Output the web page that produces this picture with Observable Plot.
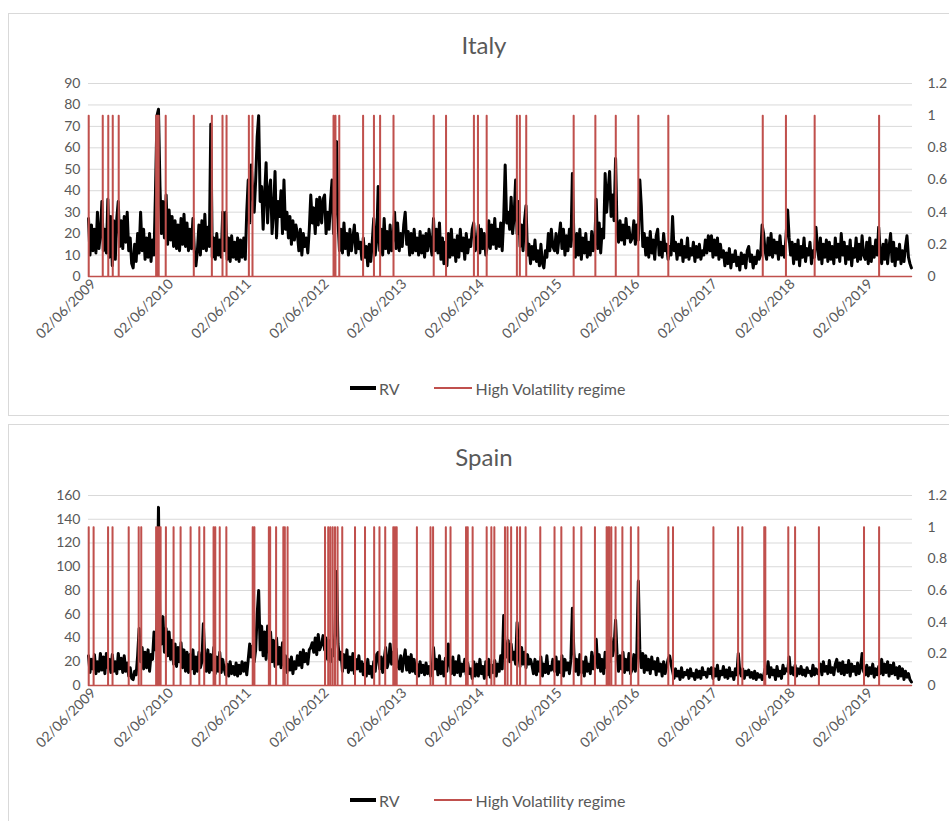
<!DOCTYPE html>
<html><head><meta charset="utf-8">
<script src="https://cdn.jsdelivr.net/npm/d3@7"></script>
<script src="https://cdn.jsdelivr.net/npm/@observablehq/plot@0.6"></script>
<style>
body{margin:0;background:#fff;font-family:Lato,"Open Sans",sans-serif;}
#page{position:relative;width:949px;height:821px;overflow:hidden;background:#fff}
.panel{position:absolute;left:8px;width:960px;border:1px solid #d9d9d9;box-sizing:border-box;}
.title{position:absolute;left:0;width:968px;text-align:center;font-size:24px;line-height:24px;color:#595959;}
.chart{position:absolute;left:0;}
.legend{position:absolute;left:350px;display:flex;align-items:center;font-size:16px;color:#595959;height:20px;}
.sw-rv{width:26px;height:4px;background:#000;}
.sw-hv{width:38px;height:1.5px;background:#c0504d;margin-left:34px;}
</style></head>
<body><div id="page">
<div class="panel" style="top:13px;height:403px"></div>
<div class="panel" style="top:424px;height:420px"></div>
<div class="title" style="top:33px">Italy</div>
<div class="title" style="top:445px">Spain</div>
<div class="chart" id="c1" style="top:60px"></div>
<div class="chart" id="c2" style="top:472px"></div>
<div class="legend" style="top:378px"><span class="sw-rv"></span><span style="margin-left:3px">RV</span><span class="sw-hv"></span><span style="margin-left:4px">High Volatility regime</span></div>
<div class="legend" style="top:790px"><span class="sw-rv"></span><span style="margin-left:3px">RV</span><span class="sw-hv"></span><span style="margin-left:4px">High Volatility regime</span></div>
</div>
<script>
// Weekly RV readings; each row starts on 2 June of 2009, 2010, ... 2019
const italyRV = [
[27,10,24,12,22,11,30,13,20,35,12,22,11,36,9,28,5,26,8,27,35,14,26,13,28,16,30,12,18,6,4,15,7,20,11,30,12,22,8,18,9,20,7,17,10,40,75,78,42,20,35,18],
[38,15,31,17,28,14,26,13,24,12,27,15,29,14,25,12,22,13,27,11,5,12,24,10,26,13,29,12,23,14,71,9,18,8,20,10,17,9,30,12,30,8,18,7,19,9,16,8,18,7,17,9],
[18,8,30,45,25,52,40,30,45,65,75,35,42,22,38,53,25,40,45,20,30,49,18,35,28,40,20,45,22,30,18,28,15,26,17,24,20,12,22,10,20,14,18,11,22,38,25,32,20,36,24,37],
[25,36,38,20,30,22,35,45,20,30,63,26,12,22,11,25,13,20,10,22,12,18,24,11,20,13,16,8,18,9,14,5,15,7,16,27,10,17,42,12,22,10,27,13,21,11,24,12,18,30,13,25],
[12,20,14,24,30,15,21,10,20,11,22,12,18,10,21,11,19,9,20,12,22,15,10,27,12,22,11,25,8,18,6,16,5,20,9,22,10,17,7,19,9,22,12,18,8,20,11,17,14,22,25,12],
[15,24,11,22,13,20,10,14,26,13,24,15,27,13,22,14,25,12,27,52,25,30,22,37,20,28,45,20,35,14,24,12,26,33,10,15,6,14,8,17,7,12,5,15,6,4,12,9,20,12,22,14],
[12,20,11,18,25,13,22,10,19,12,22,14,48,18,9,20,10,22,8,18,11,20,9,16,10,21,12,15,36,13,25,11,22,18,48,30,40,49,28,38,26,55,22,16,26,17,24,15,27,18,23,16],
[18,26,15,24,17,45,33,14,20,10,18,9,21,11,17,8,19,22,10,16,9,20,12,15,8,14,10,28,12,16,8,15,10,17,7,14,9,18,8,13,10,16,7,14,9,15,8,12,10,17,11,19],
[12,19,9,17,10,18,8,15,9,12,5,11,6,13,4,10,7,12,5,9,3,11,6,10,4,12,14,7,10,4,9,6,12,8,10,24,20,12,8,18,10,20,9,17,11,16,8,19,10,14,9,18],
[31,18,10,16,6,15,8,17,5,14,9,18,7,13,10,16,6,12,9,23,14,8,18,6,15,9,17,7,16,8,14,6,18,9,15,7,20,10,16,6,14,8,17,5,13,9,18,7,15,8,19,10],
[8,16,6,18,7,14,9,17,10,23,12,6,15,8,17,6,14,20,7,16,5,13,8,15,6,12,7,14,19,9,6,4]
];
const spainRV = [
[25,11,22,14,26,10,20,12,27,13,24,10,27,15,22,11,26,12,20,10,27,14,23,11,25,12,19,8,15,6,5,12,9,25,48,20,32,14,28,15,30,12,26,22,45,30,50,150,40,35,58,28],
[48,25,45,22,38,18,35,16,32,20,36,15,30,12,28,11,26,14,30,10,24,12,28,15,20,52,22,12,30,11,26,13,32,10,24,12,28,11,22,14,9,18,8,20,10,16,9,19,8,17,10,20],
[12,19,9,22,35,24,33,20,30,60,80,30,50,25,45,22,50,28,45,20,38,16,40,18,32,15,36,17,25,11,22,13,24,10,20,14,25,17,28,15,30,20,27,18,30,32,36,28,40,26,43,30],
[35,42,30,40,22,38,20,30,25,45,96,35,22,28,12,26,15,30,11,24,13,27,10,22,14,25,12,20,9,18,8,22,10,16,7,20,12,26,28,14,24,11,22,32,15,20,35,18,28,16,31,17],
[14,25,12,22,30,13,24,11,26,12,22,10,18,8,20,11,17,9,19,10,16,8,12,32,14,22,9,25,10,20,8,23,12,35,18,10,24,9,20,11,25,8,18,12,22,9,19,10,14,6,20,8],
[18,8,22,10,16,6,20,9,22,7,17,11,21,8,18,12,25,14,59,30,24,38,20,35,22,28,18,53,30,16,32,18,28,15,26,18,22,17,10,22,9,20,12,24,8,18,11,25,10,16,13,22],
[12,24,9,20,11,25,8,22,13,19,10,22,65,28,12,22,9,26,11,20,8,24,12,18,10,28,14,20,39,15,26,12,22,10,28,15,30,20,40,25,32,55,26,12,25,14,28,11,22,13,27,10],
[14,26,12,28,88,30,15,27,11,25,13,22,10,24,14,20,9,23,12,18,8,20,10,16,22,25,18,12,6,14,8,12,5,15,7,11,9,13,6,14,8,10,5,13,7,12,6,15,9,11,7,14],
[10,15,6,14,8,17,5,12,9,16,7,13,6,15,8,11,5,14,9,27,12,8,14,6,12,9,13,7,11,6,12,5,10,7,9,5,8,14,10,20,7,15,9,13,5,16,8,12,6,17,10,14],
[12,24,10,15,9,17,8,14,10,16,9,13,8,15,11,12,8,17,9,14,10,13,18,9,20,12,16,10,21,11,15,9,18,22,12,19,10,20,9,17,11,21,8,18,12,16,9,19,10,15,27,12],
[9,17,8,15,10,18,7,14,9,16,10,22,9,18,11,20,8,17,10,19,9,15,6,16,8,14,5,12,7,10,5,3]
];
// High volatility regime episodes: [start date, length in days]
const italyRegime = [
["2009-06-02",2],["2009-08-07",2],["2009-09-02",2],["2009-09-23",2],["2009-10-21",2],
["2010-04-15",2],["2010-04-21",2],["2010-04-27",2],["2010-05-30",2],["2010-10-09",2],
["2011-01-02",2],["2011-02-21",2],["2011-03-12",2],["2011-06-25",2],["2011-07-12",2],
["2012-07-27",2],["2012-08-05",2],["2012-08-23",2],["2012-12-13",2],["2013-02-02",2],
["2013-03-03",2],["2013-05-05",2],["2013-11-10",2],["2014-01-07",2],["2014-05-18",2],
["2014-06-06",2],["2014-07-17",2],["2014-12-06",2],["2014-12-20",2],["2015-01-19",2],
["2015-08-30",2],["2015-12-10",2],["2016-03-15",2],["2016-06-29",2],["2016-11-17",2],
["2018-02-04",2],["2018-05-24",2],["2018-10-06",2],["2019-08-05",2]
];
const spainRegime = [
["2009-06-02",2],["2009-06-25",2],["2009-09-01",2],["2009-09-22",2],["2009-12-07",2],
["2010-01-23",2],["2010-02-04",2],["2010-04-15",2],["2010-04-22",2],["2010-04-29",2],
["2010-05-06",2],["2010-05-31",2],["2010-07-06",2],["2010-08-08",2],["2010-09-24",2],
["2010-11-04",2],["2010-11-27",2],["2011-01-10",2],["2011-01-18",2],["2011-02-08",2],
["2011-03-11",2],["2011-07-13",2],["2011-07-21",2],["2011-09-27",2],["2011-10-03",2],
["2011-10-31",2],["2011-12-04",2],["2011-12-11",2],["2011-12-24",2],["2012-06-17",2],
["2012-07-02",2],["2012-07-12",2],["2012-07-23",2],["2012-08-03",2],["2012-08-15",2],
["2012-09-06",2],["2012-11-05",2],["2012-12-22",2],["2013-02-03",2],["2013-02-28",2],
["2013-03-27",2],["2013-05-04",2],["2013-05-12",2],["2013-05-20",2],["2013-08-23",2],
["2013-10-26",2],["2013-11-07",2],["2014-01-06",2],["2014-01-28",2],["2014-04-11",2],
["2014-04-19",2],["2014-05-12",2],["2014-07-17",2],["2014-08-08",2],["2014-08-22",2],
["2014-10-11",2],["2014-10-23",2],["2014-11-09",2],["2014-12-07",2],["2014-12-21",2],
["2015-01-16",2],["2015-03-26",2],["2015-06-01",2],["2015-07-03",2],["2015-08-30",2],
["2015-10-05",2],["2015-12-08",2],["2016-02-01",2],["2016-02-08",2],["2016-02-13",2],
["2016-02-23",2],["2016-03-14",2],["2016-04-15",2],["2016-05-25",2],["2016-06-29",2],
["2016-11-17",2],["2016-12-09",2],["2017-06-17",2],["2017-10-11",2],["2017-10-31",2],
["2018-02-11",2],["2018-02-16",2],["2018-06-04",2],["2018-07-06",2],["2018-10-26",2],
["2019-05-26",2],["2019-08-05",2]
];
const tickYears = [2009,2010,2011,2012,2013,2014,2015,2016,2017,2018,2019];
const rightTicks = [0,0.2,0.4,0.6,0.8,1,1.2];
const startDate = new Date(Date.UTC(2009,5,2));
const endDate = new Date(Date.UTC(2020,0,10));
const DAY = 864e5;

function weekly(rows){
  const out=[];
  rows.forEach((row,k)=>{const base=Date.UTC(2009+k,5,2);
    row.forEach((v,i)=>out.push({date:new Date(base+i*7*DAY),rv:v}));});
  return out;
}
function regime(eps,lastDate){
  const pts=[];
  eps.forEach(([s,d])=>{const t0=new Date(s+"T00:00:00Z");const t1=new Date(+t0+d*DAY);
    pts.push({date:t0,v:0},{date:t0,v:1},{date:t1,v:1},{date:t1,v:0});});
  pts.push({date:lastDate,v:0});
  return pts;
}
const fmtDate = d3.utcFormat("%d/%m/%Y");
const xTicks = tickYears.map(y=>new Date(Date.UTC(y,5,2)));

function panel(rows, eps, yMax, leftTicks, height){
  const rv = weekly(rows);
  const k = yMax/1.2;
  const reg = regime(eps, rv[rv.length-1].date);
  return Plot.plot({
    width:949, height, marginLeft:88, marginRight:37, marginTop:23, marginBottom:80,
    style:{fontFamily:"Lato, 'Open Sans', sans-serif", color:"#595959", background:"transparent", overflow:"visible"},
    x:{type:"utc", domain:[startDate,endDate], label:null},
    y:{domain:[0,yMax], label:null},
    marks:[
      Plot.gridY(leftTicks,{stroke:"#d9d9d9",strokeOpacity:1,strokeWidth:1}),
      Plot.axisY(leftTicks,{anchor:"left",tickSize:0,tickPadding:8,fontSize:14,label:null}),
      Plot.axisY(rightTicks.map(v=>v*k),{anchor:"right",tickSize:0,tickPadding:15,fontSize:14,label:null,
        tickFormat:d=>String(+(d/k).toFixed(1))}),
      Plot.axisX(xTicks,{anchor:"bottom",tickSize:0,tickPadding:5,tickRotate:-45,fontSize:14,label:null,tickFormat:fmtDate,dx:5}),
      Plot.lineY(rv,{x:"date",y:"rv",stroke:"#000",strokeWidth:3}),
      Plot.lineY(reg,{x:"date",y:d=>d.v*k,stroke:"#c0504d",strokeWidth:1.6})
    ]
  });
}
document.getElementById("c1").append(panel(italyRV, italyRegime, 90, d3.range(0,91,10), 296));
document.getElementById("c2").append(panel(spainRV, spainRegime, 160, d3.range(0,161,20), 293));
</script>
</body></html>
